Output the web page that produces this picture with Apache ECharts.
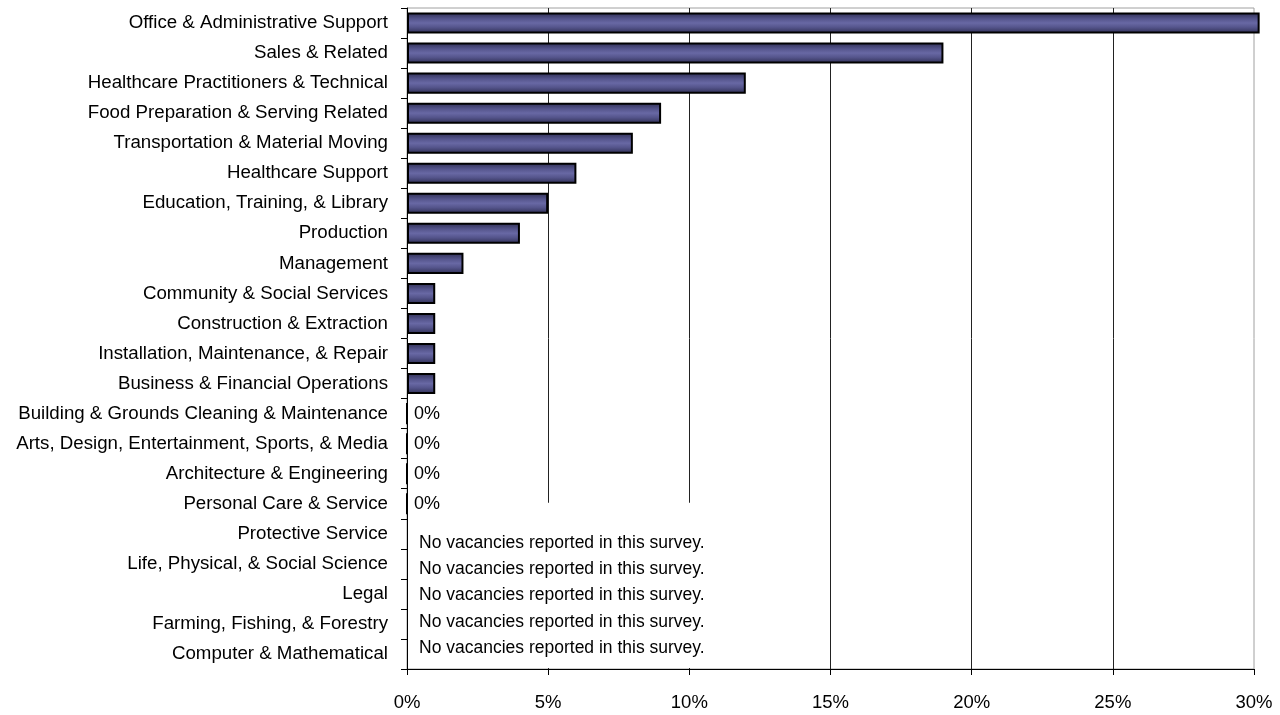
<!DOCTYPE html>
<html>
<head>
<meta charset="utf-8">
<script src="https://cdn.jsdelivr.net/npm/echarts@6/dist/echarts.min.js"></script>
<style>
  html, body { margin: 0; padding: 0; background: #fff; }
  #chart { width: 1280px; height: 715px; }
</style>
</head>
<body>
<div id="chart"></div>
<script>
// occupations, top to bottom as shown
const categories = [
    'Office & Administrative Support',
    'Sales & Related',
    'Healthcare Practitioners & Technical',
    'Food Preparation & Serving Related',
    'Transportation & Material Moving',
    'Healthcare Support',
    'Education, Training, & Library',
    'Production',
    'Management',
    'Community & Social Services',
    'Construction & Extraction',
    'Installation, Maintenance, & Repair',
    'Business & Financial Operations',
    'Building & Grounds Cleaning & Maintenance',
    'Arts, Design, Entertainment, Sports, & Media',
    'Architecture & Engineering',
    'Personal Care & Service',
    'Protective Service',
    'Life, Physical, & Social Science',
    'Legal',
    'Farming, Fishing, & Forestry',
    'Computer & Mathematical'
];

// share of vacancies, percent (null = no vacancies reported)
const shares = [30.2, 19, 12, 9, 8, 6, 5, 4, 2, 1, 1, 1, 1, 0, 0, 0, 0, null, null, null, null, null];

const xTicks = [0, 5, 10, 15, 20, 25, 30];
const noVacancyNote = 'No vacancies reported in this survey.';

const FONT = 'Liberation Sans, Arial, sans-serif';

const chart = echarts.init(document.getElementById('chart'), null, { renderer: 'canvas' });

// bar fill: dark edges, lighter middle
const barFill = new echarts.graphic.LinearGradient(0, 0, 0, 1, [
    { offset: 0, color: '#2e2e52' },
    { offset: 0.3, color: '#55558c' },
    { offset: 0.5, color: '#6868a4' },
    { offset: 0.7, color: '#55558c' },
    { offset: 1, color: '#2e2e52' }
]);

chart.setOption({
    animation: false,
    backgroundColor: '#fff',
    grid: {
        left: 407, right: 26, top: 8, bottom: 46,
        show: true, borderColor: '#a0a0a0', borderWidth: 1,
        containLabel: false
    },
    xAxis: {
        type: 'value',
        min: xTicks[0],
        max: xTicks[xTicks.length - 1],
        interval: 5,
        axisLine: { show: true, lineStyle: { color: '#000', width: 1 } },
        axisTick: { show: true, length: 6, lineStyle: { color: '#000' } },
        axisLabel: {
            margin: 24, color: '#000', fontFamily: FONT, fontSize: 18.5,
            formatter: v => v + '%'
        },
        splitLine: {
            show: true,
            lineStyle: { color: ['transparent', '#222', '#222', '#222', '#222', '#222', 'transparent'], width: 1 }
        }
    },
    yAxis: {
        type: 'category',
        data: categories,
        inverse: true,
        axisLine: { show: true, lineStyle: { color: '#000', width: 1 } },
        axisTick: { show: true, length: 6, lineStyle: { color: '#000' } },
        axisLabel: { margin: 19, color: '#000', fontFamily: FONT, fontSize: 18.7 },
        splitLine: { show: false }
    },
    series: [{
        type: 'bar',
        data: shares,
        barWidth: '70%',
        clip: false,
        itemStyle: { color: barFill, borderColor: '#000', borderWidth: 2 },
        label: {
            show: true,
            position: 'right',
            distance: 6,
            color: '#000',
            fontFamily: FONT,
            fontSize: 18,
            formatter: p => (p.value === 0 ? '0%' : '')
        }
    }]
});

// white note box over the lower-left corner of the plot (under the bars' labels)
function drawNote() {
    const firstEmpty = shares.indexOf(null);
    const yPrev = chart.convertToPixel({ yAxisIndex: 0 }, categories[firstEmpty - 1]);
    const yLast = chart.convertToPixel({ yAxisIndex: 0 }, categories[categories.length - 1]);
    const band = chart.convertToPixel({ yAxisIndex: 0 }, categories[1]) - chart.convertToPixel({ yAxisIndex: 0 }, categories[0]);
    const x0 = chart.convertToPixel({ xAxisIndex: 0 }, 0);
    const x1 = chart.convertToPixel({ xAxisIndex: 0 }, 10.8);
    const top = yPrev - 1;
    const bottom = yLast + band / 2 - 1;
    const lines = [];
    for (let i = firstEmpty; i < shares.length; i++) lines.push(noVacancyNote);

    chart.setOption({
        graphic: [
            {
                type: 'rect', z: 1,
                shape: { x: x0 + 1, y: top, width: x1 - x0, height: bottom - top },
                style: { fill: '#fff' }
            },
            {
                type: 'text', z: 1,
                x: x0 + 12, y: top + 27,
                style: {
                    text: lines.join('\n'),
                    font: '17.5px ' + FONT,
                    fill: '#000',
                    lineHeight: 26.3
                }
            }
        ]
    });
}
drawNote();
</script>
</body>
</html>
